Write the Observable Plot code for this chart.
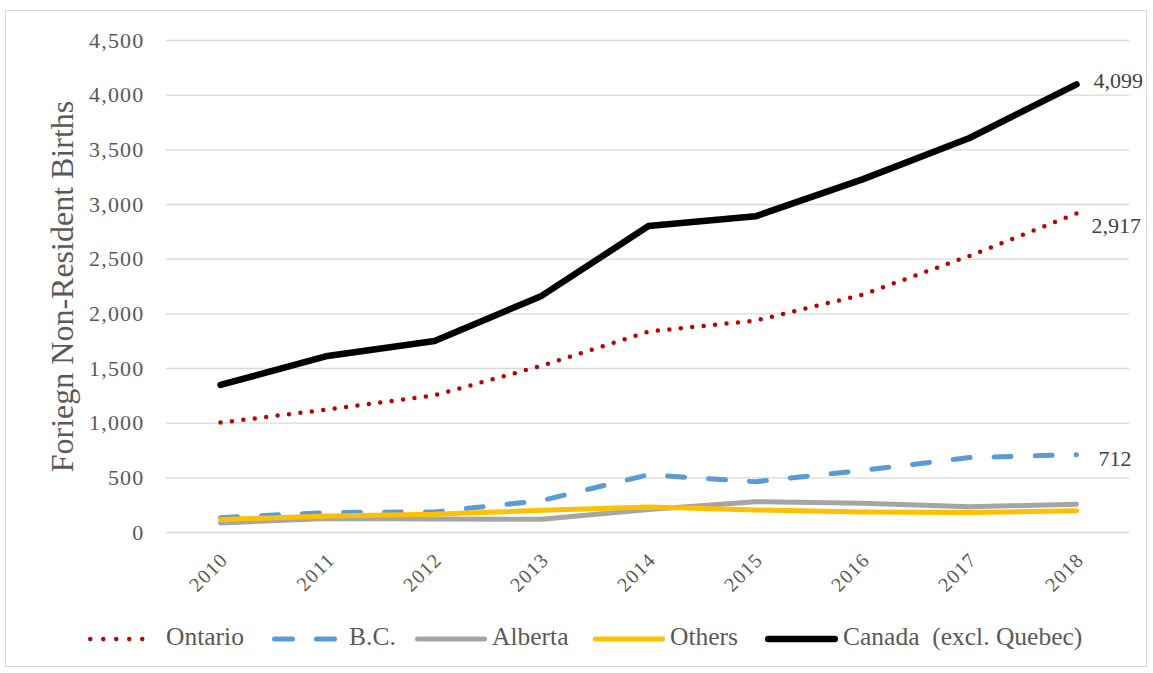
<!DOCTYPE html>
<html>
<head>
<meta charset="utf-8">
<script src="https://cdn.jsdelivr.net/npm/d3@7"></script>
<script src="https://cdn.jsdelivr.net/npm/@observablehq/plot@0.6"></script>
<style>
  html, body { margin: 0; padding: 0; background: #fff; }
  #wrap { position: relative; width: 1153px; height: 673px; overflow: hidden; font-family: "Liberation Serif", serif; }
  #border { position: absolute; left: 5px; top: 10px; width: 1140px; height: 655px; border: 1.5px solid #d9d9d9; pointer-events: none; }
  #chart { position: absolute; left: 0; top: 0; }
  #chart g[aria-label="y-axis tick label"] text,
  #chart g[aria-label="x-axis tick label"] text { letter-spacing: 1.2px; }
  #legend { position: absolute; left: 0; top: 0; width: 1153px; height: 673px; color: #595959; font-size: 25.5px; white-space: pre; }
  #legend .sw { position: absolute; }
  #legend .lbl { position: absolute; line-height: 30px; top: 622px; }
</style>
</head>
<body>
<div id="wrap">
  <div id="chart"></div>
  <div id="legend"></div>
  <div id="border"></div>
</div>
<script>
// Foreign non-resident births by province, 2010–2018
const years = [2010, 2011, 2012, 2013, 2014, 2015, 2016, 2017, 2018];
const ontario = [1005, 1125, 1255, 1525, 1838, 1938, 2175, 2530, 2917];
const bc = [136, 183, 188, 292, 528, 464, 568, 685, 712];
const alberta = [88, 128, 123, 122, 210, 282, 267, 236, 258];
const others = [118, 152, 167, 204, 234, 206, 188, 182, 200];
const canada = [1350, 1615, 1752, 2164, 2803, 2892, 3230, 3608, 4099];
const yTicks = [0, 500, 1000, 1500, 2000, 2500, 3000, 3500, 4000, 4500];

const seriesDefs = [
  {name: "Ontario", values: ontario, color: "#C00000", width: 4.5, dash: "0,11.5", label: true, ldx: 15, ldy: 12,
   sw: [88, 153], swDash: "0,13", tx: 166},
  {name: "B.C.", values: bc, color: "#5B9BD5", width: 5, dash: "17,24", label: true, ldx: 22, ldy: 4,
   sw: [272, 337], swDash: "18,24", tx: 349},
  {name: "Alberta", values: alberta, color: "#A5A5A5", width: 5, dash: null, label: false,
   sw: [415, 487], tx: 492},
  {name: "Others", values: others, color: "#FFC000", width: 5, dash: null, label: false,
   sw: [593, 665], tx: 670},
  {name: "Canada  (excl. Quebec)", values: canada, color: "#000000", width: 6.5, dash: null, label: true, ldx: 17, ldy: -3,
   sw: [765, 838], tx: 843}
];

const rows = s => years.map((year, i) => ({year, value: s.values[i], series: s.name}));
const fmt = d3.format(",");

const marks = [
  Plot.gridY(yTicks, {stroke: "#d9d9d9", strokeOpacity: 1, strokeWidth: 1.4}),
  Plot.axisY(yTicks, {tickSize: 0, tickPadding: 22, tickFormat: fmt, fontSize: 22, color: "#595959", label: null}),
  Plot.axisX(years, {tickSize: 0, tickRotate: -45, tickPadding: 24, dx: 4, tickFormat: d => String(d), fontSize: 20, color: "#595959", label: null}),
  Plot.text(["Foriegn Non-Resident Births"], {frameAnchor: "left", textAnchor: "middle", rotate: -90, dx: -104, fontSize: 32, fill: "#595959"})
];

for (const s of seriesDefs) {
  marks.push(Plot.line(rows(s), {
    x: "year", y: "value", stroke: s.color, strokeWidth: s.width,
    strokeDasharray: s.dash || undefined, strokeLinecap: "round", strokeLinejoin: "round"
  }));
}
for (const s of seriesDefs) {
  if (!s.label) continue;
  const last = rows(s).slice(-1);
  marks.push(Plot.text(last, {
    x: "year", y: "value", text: d => fmt(d.value), textAnchor: "start",
    dx: s.ldx, dy: s.ldy, fontSize: 22, fill: "#404040"
  }));
}

const chart = Plot.plot({
  width: 1153,
  height: 600,
  marginLeft: 166,
  marginRight: 24,
  marginTop: 40,
  marginBottom: 68,
  style: {fontFamily: "Liberation Serif, serif", background: "transparent"},
  x: {type: "point", domain: years, padding: 0.5, axis: null},
  y: {domain: [0, 4500], axis: null},
  marks
});
document.getElementById("chart").appendChild(chart);

// Legend: a line swatch and a name for each series
const legend = document.getElementById("legend");
for (const s of seriesDefs) {
  const [x0, x1] = s.sw;
  const sw = d3.create("svg")
    .attr("class", "sw")
    .attr("width", x1 - x0 + 8).attr("height", 14)
    .style("left", (x0 - 4) + "px").style("top", "632px");
  sw.append("line")
    .attr("x1", 4 + s.width / 2).attr("x2", x1 - x0 + 4 - s.width / 2).attr("y1", 7).attr("y2", 7)
    .attr("stroke", s.color).attr("stroke-width", s.width)
    .attr("stroke-linecap", "round")
    .attr("stroke-dasharray", s.swDash || null);
  legend.appendChild(sw.node());
  const t = document.createElement("div");
  t.className = "lbl";
  t.style.left = s.tx + "px";
  t.textContent = s.name;
  legend.appendChild(t);
}
</script>
</body>
</html>
